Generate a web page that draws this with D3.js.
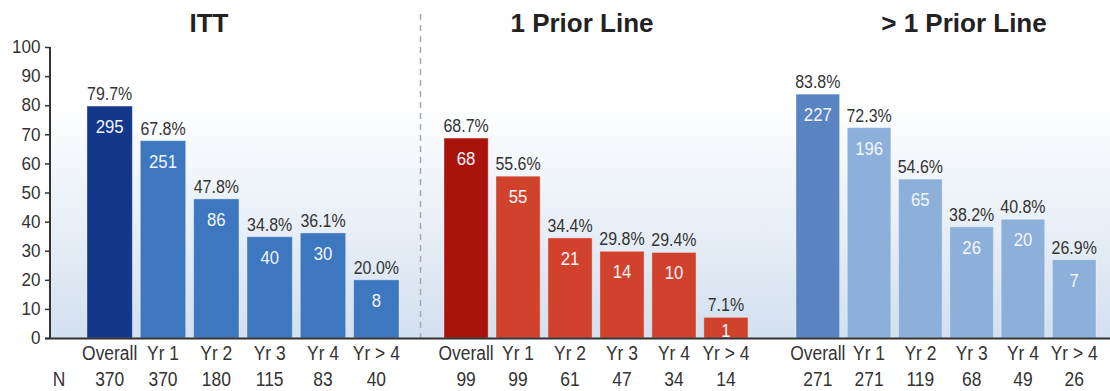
<!DOCTYPE html>
<html>
<head>
<meta charset="utf-8">
<script src="https://cdn.jsdelivr.net/npm/d3@7"></script>
<style>
  html, body { margin: 0; padding: 0; background: #fff; }
  svg { display: block; }
  text { font-family: "Liberation Sans", Arial, sans-serif; }
</style>
</head>
<body>
<svg id="chart" width="1110" height="391"></svg>
<script>
// Response rates by year of treatment, three patient groups
const groupTitles = ["ITT", "1 Prior Line", "> 1 Prior Line"];
const categories = ["Overall", "Yr 1", "Yr 2", "Yr 3", "Yr 4", "Yr > 4"];
const ittPercent = [79.7, 67.8, 47.8, 34.8, 36.1, 20.0];
const ittResponders = [295, 251, 86, 40, 30, 8];
const ittN = [370, 370, 180, 115, 83, 40];
const onePriorPercent = [68.7, 55.6, 34.4, 29.8, 29.4, 7.1];
const onePriorResponders = [68, 55, 21, 14, 10, 1];
const onePriorN = [99, 99, 61, 47, 34, 14];
const multiPriorPercent = [83.8, 72.3, 54.6, 38.2, 40.8, 26.9];
const multiPriorResponders = [227, 196, 65, 26, 20, 7];
const multiPriorN = [271, 271, 119, 68, 49, 26];
const yTicks = [0, 10, 20, 30, 40, 50, 60, 70, 80, 90, 100];

const groups = [
  { title: groupTitles[0], pct: ittPercent, resp: ittResponders, n: ittN,
    range: [87, 399], titleX: 209, colors: ["#12378b", "#3c77bf"] },
  { title: groupTitles[1], pct: onePriorPercent, resp: onePriorResponders, n: onePriorN,
    range: [444, 748], titleX: 582, colors: ["#a9130c", "#d1422d"] },
  { title: groupTitles[2], pct: multiPriorPercent, resp: multiPriorResponders, n: multiPriorN,
    range: [796, 1096], titleX: 964, colors: ["#5a84c1", "#8db0da"] }
];

const svg = d3.select("#chart");
const axisX = 50, plotTop = 47, plotBase = 338;
const y = d3.scaleLinear().domain([0, 100]).range([plotBase, plotTop]);

// condensed-looking labels: place at (x, y) and squeeze horizontally
const place = (fx, fy, sx) => (d, i) =>
  `translate(${fx(d, i)},${fy(d, i)}) scale(${sx},1)`;

// plot background: white fading to pale blue toward the baseline
const defs = svg.append("defs");
const grad = defs.append("linearGradient").attr("id", "bg")
  .attr("x1", 0).attr("y1", 0).attr("x2", 0).attr("y2", 1);
grad.append("stop").attr("offset", "0%").attr("stop-color", "#ffffff");
grad.append("stop").attr("offset", "18%").attr("stop-color", "#ffffff");
grad.append("stop").attr("offset", "100%").attr("stop-color", "#d3e0ef");
svg.append("rect").attr("x", axisX).attr("y", plotTop)
  .attr("width", 1110 - axisX).attr("height", plotBase - plotTop)
  .attr("fill", "url(#bg)");

// group divider
svg.append("line")
  .attr("x1", 420.5).attr("x2", 420.5).attr("y1", 14).attr("y2", plotBase)
  .attr("stroke", "#a9a9a9").attr("stroke-width", 1.5)
  .attr("stroke-dasharray", "6,5");

groups.forEach(g => {
  const x = d3.scaleBand().domain(categories).range(g.range)
    .paddingInner(0.15).paddingOuter(0);
  const layer = svg.append("g");
  const data = categories.map((c, i) => ({ c, i, pct: g.pct[i], resp: g.resp[i], n: g.n[i] }));
  const cx = d => x(d.c) + x.bandwidth() / 2;

  layer.selectAll("rect.bar").data(data).join("rect")
    .attr("class", "bar")
    .attr("x", d => x(d.c)).attr("width", x.bandwidth())
    .attr("y", d => y(d.pct)).attr("height", d => y(0) - y(d.pct))
    .attr("fill", d => d.i === 0 ? g.colors[0] : g.colors[1])
    .attr("stroke", "rgba(255,255,255,0.35)").attr("stroke-width", 1);

  // percentage above each bar
  layer.selectAll("text.pct").data(data).join("text")
    .attr("class", "pct")
    .attr("transform", place(cx, d => y(d.pct) - 6, 0.84))
    .attr("text-anchor", "middle").attr("font-size", 19).attr("fill", "#333")
    .text(d => d.pct.toFixed(1) + "%");

  // responder count inside each bar
  layer.selectAll("text.resp").data(data).join("text")
    .attr("class", "resp")
    .attr("transform", place(cx, d => Math.min(y(d.pct) + 27, y(0) - 1.5), 0.88))
    .attr("text-anchor", "middle").attr("font-size", 19).attr("fill", "#f4f6fa")
    .text(d => d.resp);

  // category labels and N row
  layer.selectAll("text.cat").data(data).join("text")
    .attr("class", "cat")
    .attr("transform", place(cx, () => 360, 0.83))
    .attr("text-anchor", "middle").attr("font-size", 21).attr("fill", "#333")
    .text(d => d.c);
  layer.selectAll("text.n").data(data).join("text")
    .attr("class", "n")
    .attr("transform", place(cx, () => 386, 0.83))
    .attr("text-anchor", "middle").attr("font-size", 21).attr("fill", "#333")
    .text(d => d.n);

  svg.append("text")
    .attr("x", g.titleX).attr("y", 32).attr("text-anchor", "middle")
    .attr("font-weight", "bold").attr("font-size", 26).attr("fill", "#222")
    .text(g.title);
});

svg.append("text")
  .attr("transform", "translate(59,386) scale(0.83,1)").attr("text-anchor", "middle")
  .attr("font-size", 21).attr("fill", "#333").text("N");

// y axis
const yAxis = d3.axisLeft(y).tickValues(yTicks).tickSize(5).tickPadding(5);
const ya = svg.append("g").attr("transform", `translate(${axisX},0)`).call(yAxis);
ya.attr("font-family", null).attr("font-size", null);
ya.select(".domain").attr("stroke", "#333").attr("stroke-width", 2)
  .attr("d", `M0,${plotTop}V${plotBase}`);
ya.selectAll(".tick line").attr("stroke", "#333").attr("stroke-width", 1.5);
ya.selectAll(".tick text").attr("font-size", 18).attr("fill", "#333")
  .attr("transform", "scale(0.95,1)");

// baseline
svg.append("line").attr("x1", axisX - 5).attr("x2", 1110)
  .attr("y1", plotBase + 0.5).attr("y2", plotBase + 0.5)
  .attr("stroke", "#333").attr("stroke-width", 2);
</script>
</body>
</html>
